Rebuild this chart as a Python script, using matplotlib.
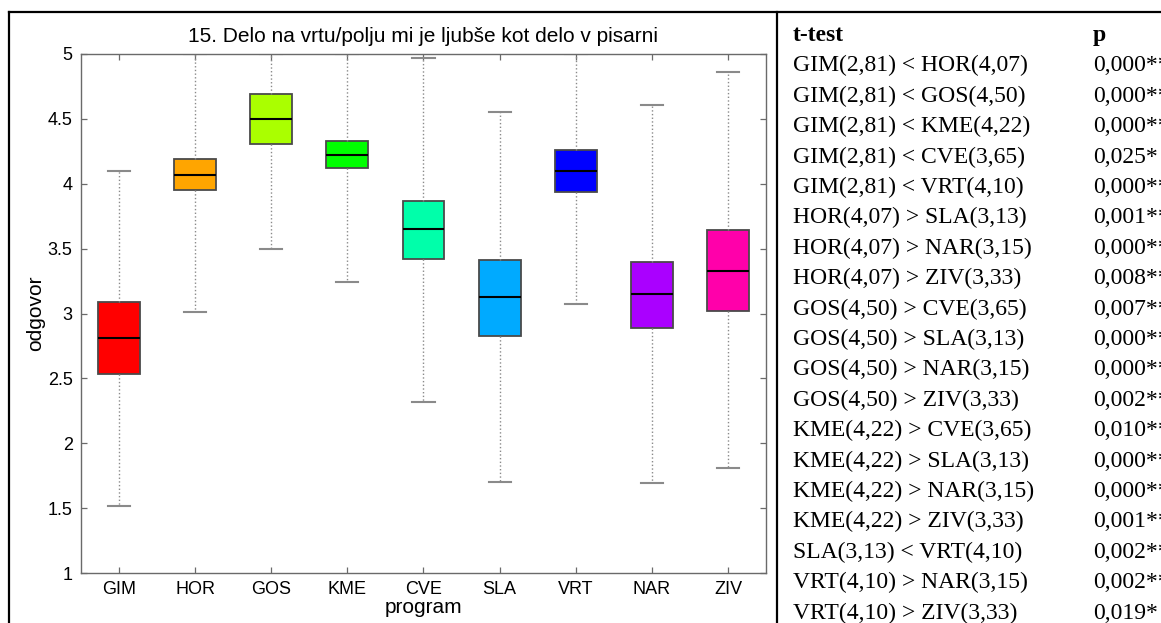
import matplotlib
matplotlib.use("Agg")
import matplotlib.pyplot as plt
from matplotlib.lines import Line2D
from matplotlib.ticker import FormatStrFormatter

# Programs and box-plot summary values (answers on a 1-5 scale)
programs = ["GIM", "HOR", "GOS", "KME", "CVE", "SLA", "VRT", "NAR", "ZIV"]
medians = [2.81, 4.07, 4.50, 4.22, 3.65, 3.13, 4.10, 3.15, 3.33]
q1 = [2.53, 3.95, 4.31, 4.12, 3.42, 2.83, 3.94, 2.89, 3.02]
q3 = [3.09, 4.19, 4.69, 4.33, 3.87, 3.41, 4.26, 3.40, 3.64]
whisker_low = [1.52, 3.01, 3.50, 3.24, 2.32, 1.70, 3.07, 1.69, 1.81]
whisker_high = [4.10, 5.00, 5.00, 5.00, 4.97, 4.55, 5.00, 4.61, 4.86]
box_colors = ["#FF0000", "#FFA500", "#AAFF00", "#00FF00", "#00FFAA",
              "#00AAFF", "#0000FF", "#AA00FF", "#FF00AA"]

y_ticks = [1, 1.5, 2, 2.5, 3, 3.5, 4, 4.5, 5]

# t-test comparison table
test_rows = [
    "GIM(2,81) < HOR(4,07)", "GIM(2,81) < GOS(4,50)", "GIM(2,81) < KME(4,22)",
    "GIM(2,81) < CVE(3,65)", "GIM(2,81) < VRT(4,10)", "HOR(4,07) > SLA(3,13)",
    "HOR(4,07) > NAR(3,15)", "HOR(4,07) > ZIV(3,33)", "GOS(4,50) > CVE(3,65)",
    "GOS(4,50) > SLA(3,13)", "GOS(4,50) > NAR(3,15)", "GOS(4,50) > ZIV(3,33)",
    "KME(4,22) > CVE(3,65)", "KME(4,22) > SLA(3,13)", "KME(4,22) > NAR(3,15)",
    "KME(4,22) > ZIV(3,33)", "SLA(3,13) < VRT(4,10)", "VRT(4,10) > NAR(3,15)",
    "VRT(4,10) > ZIV(3,33)",
]
p_values = [
    "0,000**", "0,000**", "0,000**", "0,025*", "0,000**", "0,001**",
    "0,000**", "0,008**", "0,007**", "0,000**", "0,000**", "0,002**",
    "0,010**", "0,000**", "0,000**", "0,001**", "0,002**", "0,002**",
    "0,019*",
]

W, H = 1161, 623
fig = plt.figure(figsize=(W / 100, H / 100), dpi=100)
fig.patch.set_facecolor("white")

ax = fig.add_axes([81 / W, 1 - 573 / H, (766 - 81) / W, (573 - 54) / H])

stats = [
    dict(med=m, q1=a, q3=b, whislo=lo, whishi=hi, fliers=[], label=name)
    for name, m, a, b, lo, hi in zip(programs, medians, q1, q3,
                                     whisker_low, whisker_high)
]
positions = list(range(1, len(programs) + 1))
bp = ax.bxp(
    stats, positions=positions, widths=0.55, capwidths=0.29,
    patch_artist=True, showfliers=False,
    boxprops=dict(edgecolor="#4a4a4a", linewidth=1.3),
    medianprops=dict(color="black", linewidth=1.5),
    whiskerprops=dict(color="#8a8a8a", linestyle=":", linewidth=1.0),
    capprops=dict(color="#8a8a8a", linewidth=1.5),
)
for patch, c in zip(bp["boxes"], box_colors):
    patch.set_facecolor(c)

ax.set_xlim(0.5, 9.5)
ax.set_ylim(1, 5)
ax.set_xticks(positions)
ax.set_xticklabels(programs)
ax.set_yticks(y_ticks)
ax.yaxis.set_major_formatter(FormatStrFormatter("%g"))

spine_color = "#6a6a6a"
for s in ax.spines.values():
    s.set_color(spine_color)
    s.set_linewidth(1.0)
ax.tick_params(direction="in", length=4.5, width=0.9, color=spine_color,
               top=True, right=True, labelsize=13, pad=6,
               labelfontfamily="Liberation Sans")

ax.set_title("15. Delo na vrtu/polju mi je ljubše kot delo v pisarni",
             fontsize=15, family="Liberation Sans", pad=9)
ax.set_xlabel("program", fontsize=15, family="Liberation Sans", labelpad=0)
ax.set_ylabel("odgovor", fontsize=15, family="Liberation Sans")
ax.yaxis.set_label_coords(-0.052, 0.5)

# Frame of the surrounding table
lw = 1.6
fig.add_artist(Line2D([8.5 / W, 1.0], [1 - 12 / H, 1 - 12 / H],
                      color="black", linewidth=lw, transform=fig.transFigure))
fig.add_artist(Line2D([8.5 / W, 8.5 / W], [0, 1 - 12 / H],
                      color="black", linewidth=lw, transform=fig.transFigure))
fig.add_artist(Line2D([777 / W, 777 / W], [0, 1 - 12 / H],
                      color="black", linewidth=lw, transform=fig.transFigure))

# Table of t-test results
serif = "Liberation Serif"
fs = 17
x_left = 793 / W
x_p = 1093 / W
y0, dy = 33, 30.4
base_off = 8
fig.text(x_left, 1 - (y0 + base_off) / H, "t-test", family=serif,
         fontsize=fs, fontweight="bold", va="baseline")
fig.text(x_p, 1 - (y0 + base_off) / H, "p", family=serif,
         fontsize=fs, fontweight="bold", va="baseline")
for k, (row, p) in enumerate(zip(test_rows, p_values), start=1):
    yb = 1 - (y0 + k * dy + base_off) / H
    fig.text(x_left, yb, row, family=serif, fontsize=fs, va="baseline")
    fig.text(x_p, yb, p, family=serif, fontsize=fs, va="baseline")

fig.savefig("out.png", dpi=100)
